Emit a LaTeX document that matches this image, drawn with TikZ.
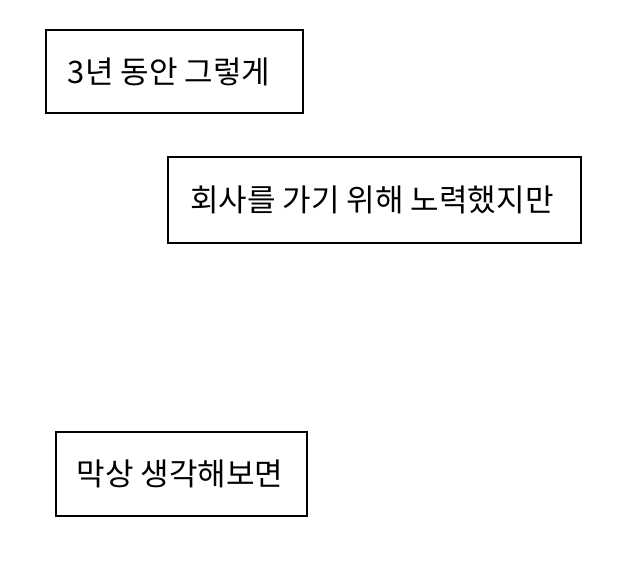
\documentclass[tikz,border=0pt]{standalone}
\usepackage{fontspec}
\newfontfamily\kr{Noto Sans CJK KR}
\begin{document}
\begin{tikzpicture}[x=1pt,y=-1pt,
  box/.style={draw=black, line width=1.5pt, inner sep=0pt, minimum width=#1, font=\kr\fontsize{31}{36}\selectfont},
]
\useasboundingbox (0,0) rectangle (643,562);
\node[box=257pt, minimum height=83pt] (b1) at (174.5,71.5) {3년 동안 그렇게\kern11pt};
\node[box=413pt, minimum height=86pt] (b2) at (374.5,200) {회사를 가기 위해 노력했지만\kern5pt};
\node[box=251pt, minimum height=84pt] (b3) at (181.5,474) {막상 생각해보면\kern3pt};
\end{tikzpicture}
\end{document}
